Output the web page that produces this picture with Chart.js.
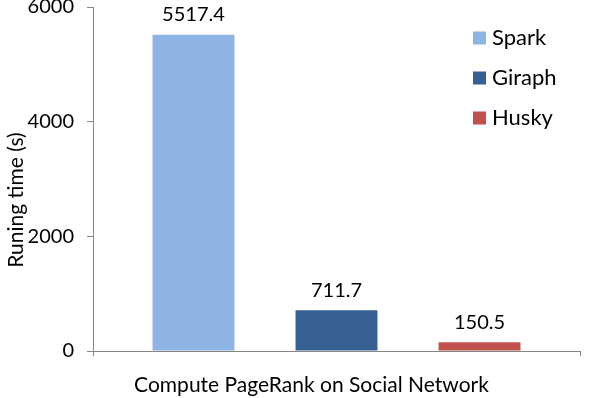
<!DOCTYPE html>
<html>
<head>
<meta charset="utf-8">
<script src="https://cdn.jsdelivr.net/npm/chart.js@4"></script>
<style>
  html, body { margin: 0; padding: 0; background: #fff; }
  #wrap { width: 610px; height: 398px; position: relative; }
</style>
</head>
<body>
<div id="wrap"><canvas id="c" width="610" height="398"></canvas></div>
<script>
const categories = ['Compute PageRank on Social Network'];
const seriesNames = ['Spark', 'Giraph', 'Husky'];
const sparkValues = [5517.4];
const giraphValues = [711.7];
const huskyValues = [150.5];
const yTicks = [0, 2000, 4000, 6000];
const yTitle = 'Runing time (s)';
const seriesColors = ['#8EB4E3', '#376092', '#C0504D'];

const FONT = 'Lato, "Open Sans", sans-serif';
const FS = 20;

const valueLabels = {
  id: 'valueLabels',
  afterDatasetsDraw(chart) {
    const ctx = chart.ctx;
    ctx.save();
    ctx.font = FS + 'px ' + FONT;
    ctx.fillStyle = '#000';
    ctx.textAlign = 'center';
    ctx.textBaseline = 'middle';
    chart.data.datasets.forEach((ds, i) => {
      const meta = chart.getDatasetMeta(i);
      meta.data.forEach((bar, j) => {
        ctx.fillText(ds.data[j].toFixed(1), bar.x, bar.y - 20);
      });
    });
    ctx.restore();
  }
};

const sideLegend = {
  id: 'sideLegend',
  afterDraw(chart) {
    const ctx = chart.ctx;
    ctx.save();
    ctx.font = '22px ' + FONT;
    ctx.textBaseline = 'middle';
    ctx.textAlign = 'left';
    chart.data.datasets.forEach((ds, i) => {
      const y = 38 + i * 40;
      ctx.fillStyle = ds.backgroundColor;
      ctx.fillRect(473, y - 6.5, 13, 13);
      ctx.fillStyle = '#000';
      ctx.fillText(ds.label, 492, y);
    });
    // rotated y-axis title
    ctx.font = '21px ' + FONT;
    ctx.translate(16, 200);
    ctx.rotate(-Math.PI / 2);
    ctx.textAlign = 'center';
    ctx.fillText(yTitle, 0, 0);
    ctx.restore();
  }
};

const values = [sparkValues, giraphValues, huskyValues];

new Chart(document.getElementById('c'), {
  type: 'bar',
  data: {
    labels: categories,
    datasets: seriesNames.map((name, i) => ({
      label: name,
      data: values[i],
      backgroundColor: seriesColors[i],
      borderWidth: 0,
      categoryPercentage: 0.881,
      barPercentage: 0.573
    }))
  },
  options: {
    responsive: false,
    animation: false,
    devicePixelRatio: 1,
    layout: { padding: { top: 7, right: 30, left: 0, bottom: 0 } },
    plugins: {
      legend: { display: false },
      tooltip: { enabled: false }
    },
    scales: {
      x: {
        offset: true,
        grid: {
          display: true,
          drawOnChartArea: false,
          offset: true,
          color: '#868686',
          tickLength: 5
        },
        border: { color: '#868686', width: 1 },
        ticks: {
          color: '#000',
          font: { family: FONT, size: 21 },
          padding: 17,
          labelOffset: -25
        },
        afterFit(s) { s.height = 47; s.paddingLeft = 0; s.paddingRight = 0; }
      },
      y: {
        min: 0,
        max: 6000,
        afterBuildTicks(s) { s.ticks = yTicks.map(v => ({ value: v })); },
        grid: {
          display: true,
          drawOnChartArea: false,
          color: '#868686',
          tickLength: 6
        },
        border: { color: '#868686', width: 1 },
        ticks: {
          color: '#000',
          font: { family: FONT, size: FS },
          padding: 13,
          callback: v => String(v)
        },
        afterFit(s) { s.width = 93; s.paddingTop = 0; s.paddingBottom = 0; }
      }
    }
  },
  plugins: [valueLabels, sideLegend]
});
</script>
</body>
</html>
